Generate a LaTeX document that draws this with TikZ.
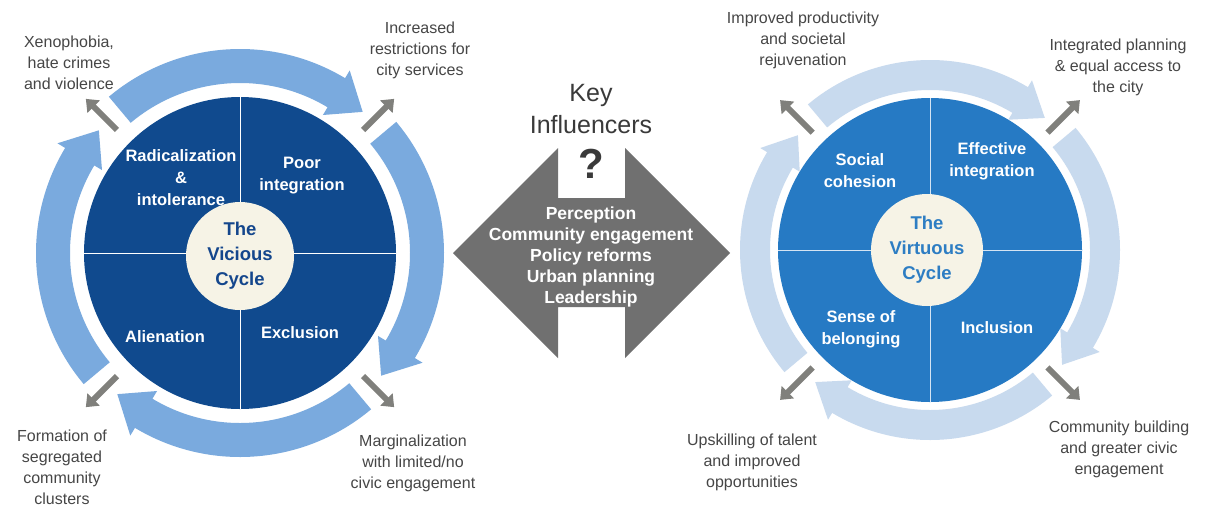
\documentclass[tikz,border=0pt]{standalone}
\usepackage{fontspec}
\setmainfont{Liberation Sans}
\usetikzlibrary{arrows.meta}
\definecolor{ringL}{RGB}{122,170,222}
\definecolor{darkL}{RGB}{16,74,142}
\definecolor{ringR}{RGB}{200,218,238}
\definecolor{darkR}{RGB}{38,122,196}
\definecolor{cream}{RGB}{246,243,230}
\definecolor{garrowc}{RGB}{128,128,124}
\definecolor{diamc}{RGB}{112,112,112}
\definecolor{labc}{RGB}{70,70,70}
\definecolor{keyc}{RGB}{58,58,58}
\definecolor{ctrL}{RGB}{20,70,140}
\definecolor{ctrR}{RGB}{45,125,195}
\begin{document}
\begin{tikzpicture}[x=1pt,y=1pt,
  quad/.style={text=white,font=\bfseries\fontsize{16.5}{22}\selectfont,align=center,inner sep=0pt},
  ctr/.style={circle,fill=cream,minimum size=#1,inner sep=0pt,align=center,font=\bfseries\fontsize{18.5}{25}\selectfont},
  lab/.style={text=labc,font=\fontsize{16}{21}\selectfont,align=center,inner sep=0pt},
  garrow/.style={draw=garrowc,line width=6pt,-{Triangle[length=11pt,width=17pt]}},
  dtext/.style={text=white,font=\bfseries\fontsize{17.5}{20.8}\selectfont,align=center,inner sep=0pt}]
\useasboundingbox (0,0) rectangle (1229,-507);
\fill[white] (0,0) rectangle (1229,-507);

% ---------- Left: vicious cycle ----------
\begin{scope}[shift={(240,-253)}]
  \foreach \c in {90,0,-90,-180} {
    \pgfmathsetmacro\sa{\c+40}\pgfmathsetmacro\ba{\c-31}\pgfmathsetmacro\ta{\c-41}
    \fill[ringL] (\sa:204) arc[start angle=\sa,end angle=\ba,radius=204]
      -- (\ba:213) -- (\ta:187) -- (\ba:161) -- (\ba:170)
      arc[start angle=\ba,end angle=\sa,radius=170] -- cycle;
  }
  \fill[darkL] (0,0) circle[radius=156];
  \draw[white,line width=1pt] (-156,0) -- (156,0) (0,156) -- (0,-156);
  \node[ctr=108pt,text=ctrL] (vc) at (0,-3) {The\\Vicious\\Cycle};
  \foreach \a/\n in {135/a,45/b,-45/c,-135/d} {
    \coordinate (L\n s) at (\a:174);
    \coordinate (L\n e) at (\a:218);
  }
\end{scope}
\draw[garrow] (Las) -- (Lae);
\draw[garrow] (Lbs) -- (Lbe);
\draw[garrow] (Lcs) -- (Lce);
\draw[garrow] (Lds) -- (Lde);

\node[quad] (q1) at (181,-178) {Radicalization\\\&\\intolerance};
\node[quad] (q2) at (302,-176) {Poor\\integration};
\node[quad] (q3) at (165,-337) {Alienation};
\node[quad] (q4) at (300,-333) {Exclusion};

\node[lab] (l1) at (69,-63) {Xenophobia,\\hate crimes\\and violence};
\node[lab] (l2) at (420,-50) {Increased\\restrictions for\\city services};
\node[lab] (l3) at (62,-467) {Formation of\\segregated\\community\\clusters};
\node[lab] (l4) at (413,-463) {Marginalization\\with limited/no\\civic engagement};

% ---------- Middle: key influencers ----------
\coordinate (dl) at (453,-253);
\coordinate (dr) at (730,-253);
\fill[diamc] (dl) -- (558,-148) -- (558,-198) -- (625,-198) -- (625,-148) -- (dr)
  -- (625,-358) -- (625,-307) -- (558,-307) -- (558,-358) -- cycle;
\node[text=keyc,font=\fontsize{25}{32}\selectfont,align=center,inner sep=0pt] (key) at (591,-109) {Key\\Influencers};
\node[text=keyc,font=\bfseries\fontsize{42}{42}\selectfont,inner sep=0pt] (qm) at (591,-164) {?};
\node[dtext] (inf) at (591,-257) {Perception\\Community engagement\\Policy reforms\\Urban planning\\Leadership};

% ---------- Right: virtuous cycle ----------
\begin{scope}[shift={(930,-250)}]
  \foreach \c in {90,0,-90,-180} {
    \pgfmathsetmacro\sa{\c+40}\pgfmathsetmacro\ba{\c-31}\pgfmathsetmacro\ta{\c-41}
    \fill[ringR] (\sa:190) arc[start angle=\sa,end angle=\ba,radius=190]
      -- (\ba:198) -- (\ta:175) -- (\ba:152) -- (\ba:160)
      arc[start angle=\ba,end angle=\sa,radius=160] -- cycle;
  }
  \fill[darkR] (0,0) circle[radius=152];
  \draw[white!80!darkR,line width=1pt] (-152,0) -- (152,0) (0,152) -- (0,-152);
  \node[ctr=112pt,text=ctrR] (vr) at (-3,0) {The\\Virtuous\\Cycle};
  \foreach \a/\n in {135/a,45/b,-45/c,-135/d} {
    \coordinate (R\n s) at (\a:166);
    \coordinate (R\n e) at (\a:212);
  }
\end{scope}
\draw[garrow] (Ras) -- (Rae);
\draw[garrow] (Rbs) -- (Rbe);
\draw[garrow] (Rcs) -- (Rce);
\draw[garrow] (Rds) -- (Rde);

\node[quad] (p1) at (860,-171) {Social\\cohesion};
\node[quad] (p2) at (992,-161) {Effective\\integration};
\node[quad] (p3) at (861,-329) {Sense of\\belonging};
\node[quad] (p4) at (997,-328) {Inclusion};

\node[lab] (m1) at (803,-40) {Improved productivity\\and societal\\rejuvenation};
\node[lab] (m2) at (1118,-67) {Integrated planning\\\& equal access to\\the city};
\node[lab] (m3) at (752,-462) {Upskilling of talent\\and improved\\opportunities};
\node[lab] (m4) at (1119,-449) {Community building\\and greater civic\\engagement};
\end{tikzpicture}
\end{document}
